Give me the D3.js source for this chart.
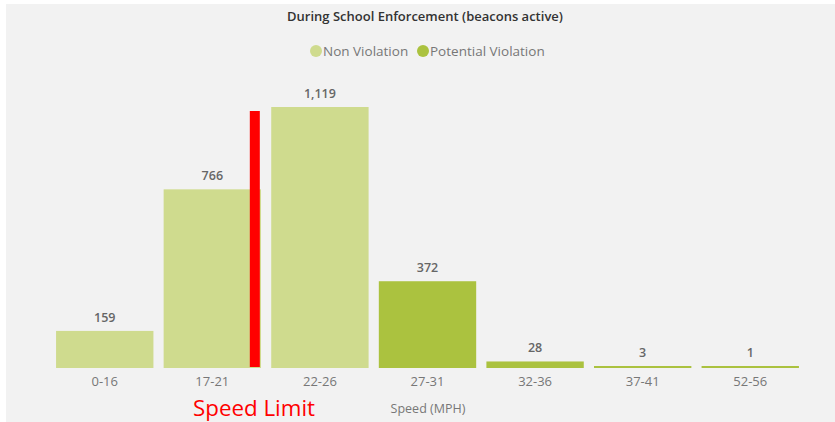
<!DOCTYPE html>
<html>
<head>
<meta charset="utf-8">
<script src="https://cdn.jsdelivr.net/npm/d3@7"></script>
<style>
  body { margin: 0; background: #fff; }
  svg { display: block; font-family: "Open Sans", "Noto Sans", sans-serif; }
</style>
</head>
<body>
<div id="chart"></div>
<script>
// speed bins and counts
var categories = ['0-16', '17-21', '22-26', '27-31', '32-36', '37-41', '52-56'];
var counts = [159, 766, 1119, 372, 28, 3, 1];
var groups = ['Non Violation', 'Non Violation', 'Non Violation', 'Potential Violation',
              'Potential Violation', 'Potential Violation', 'Potential Violation'];
var legendNames = ['Non Violation', 'Potential Violation'];
var legendColors = ['#cfdb8e', '#abc23f'];

var width = 835, height = 422;

var svg = d3.select('#chart').append('svg')
    .attr('width', width)
    .attr('height', height);

svg.append('rect')
    .attr('x', 6).attr('y', 4)
    .attr('width', width - 6).attr('height', height - 4)
    .attr('fill', '#f2f2f2');

var x = d3.scaleBand()
    .domain(categories)
    .range([51, 804])
    .paddingInner(0.095)
    .paddingOuter(0.047);

var y = d3.scaleLinear()
    .domain([0, 1119])
    .range([368, 107]);

var color = d3.scaleOrdinal().domain(legendNames).range(legendColors);

var data = categories.map(function (c, i) {
    return { cat: c, value: counts[i], group: groups[i] };
});

// title
svg.append('text')
    .attr('x', 425).attr('y', 21)
    .attr('text-anchor', 'middle')
    .attr('font-size', 13)
    .attr('font-weight', 600)
    .attr('fill', '#333')
    .text('During School Enforcement (beacons active)');

// legend
var legend = svg.append('g').attr('class', 'legend');
var lx = [316, 423];
legendNames.forEach(function (name, i) {
    legend.append('circle')
        .attr('cx', lx[i]).attr('cy', 51).attr('r', 6)
        .attr('fill', color(name));
    legend.append('text')
        .attr('x', lx[i] + 7).attr('y', 56)
        .attr('font-size', 13.5)
        .attr('fill', '#777')
        .text(name);
});

// bars
svg.append('g').selectAll('rect.bar')
    .data(data)
    .enter().append('rect')
    .classed('bar', true)
    .attr('x', function (d) { return x(d.cat); })
    .attr('y', function (d) { return Math.min(y(d.value), y(0) - 2); })
    .attr('width', x.bandwidth())
    .attr('height', function (d) { return Math.max(y(0) - y(d.value), 2); })
    .attr('fill', function (d) { return color(d.group); });

// value labels
svg.append('g').selectAll('text.value')
    .data(data)
    .enter().append('text')
    .classed('value', true)
    .attr('x', function (d) { return x(d.cat) + x.bandwidth() / 2; })
    .attr('y', function (d) { return Math.min(y(d.value), y(0) - 2) - 9; })
    .attr('text-anchor', 'middle')
    .attr('font-size', 12.5)
    .attr('font-weight', 600)
    .attr('fill', '#666')
    .text(function (d) { return d3.format(',')(d.value); });

// x axis
var xAxis = svg.append('g')
    .attr('transform', 'translate(0,' + y(0) + ')')
    .call(d3.axisBottom(x).tickSize(0).tickPadding(9));
xAxis.select('.domain').remove();
xAxis.selectAll('text')
    .attr('font-size', 13)
    .attr('fill', '#777')
    .attr('font-family', '"Open Sans", "Noto Sans", sans-serif');

svg.append('text')
    .attr('x', 428).attr('y', 413)
    .attr('text-anchor', 'middle')
    .attr('font-size', 12.5)
    .attr('fill', '#777')
    .text('Speed (MPH)');

// speed limit marker
var limitX = x('17-21') + x.bandwidth() * 0.885;
svg.append('rect')
    .attr('x', limitX).attr('y', 111)
    .attr('width', 10)
    .attr('height', y(0) - 1 - 111)
    .attr('fill', '#ff0000');

svg.append('text')
    .attr('x', 254).attr('y', 416)
    .attr('text-anchor', 'middle')
    .attr('font-size', 21.5)
    .attr('textLength', 122)
    .attr('lengthAdjust', 'spacingAndGlyphs')
    .attr('fill', '#ff0000')
    .text('Speed Limit');
</script>
</body>
</html>
